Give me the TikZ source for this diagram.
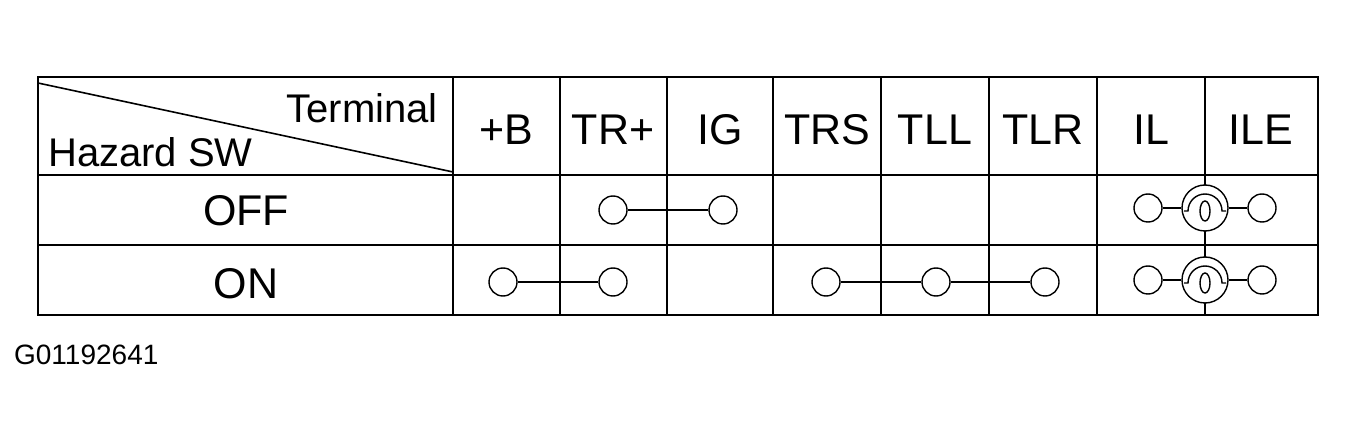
\documentclass[tikz,border=0pt]{standalone}
\usepackage{fontspec}
\setmainfont{Liberation Sans}
\begin{document}
\begin{tikzpicture}[x=1pt,y=-1pt,line width=1.6pt,
  term/.style={circle,draw,line width=1.4pt,minimum size=28pt,inner sep=0pt},
  lbl/.style={font=\fontsize{43}{43}\selectfont}]
\useasboundingbox (0,0) rectangle (1358,438);
\draw (38,77) rectangle (1318,315);
\draw (38,175) -- (1318,175) (38,245) -- (1318,245);
\foreach \x in {453,560,667,773,881,989,1097,1205} \draw (\x,77) -- (\x,315);
\draw (38,83) -- (453,172);
\node[font=\fontsize{40}{40}\selectfont,anchor=east] (hterm) at (442,108) {Terminal};
\node[font=\fontsize{40}{40}\selectfont,anchor=west] (hsw) at (44,152) {Hazard SW};
\foreach \x/\t/\n in {506/+B/h1,613/TR+/h2,720/IG/h3,827/TRS/h4,935/TLL/h5,1043/TLR/h6,1151/IL/h7,1261/ILE/h8}
  \node[lbl] (\n) at (\x,130) {\t};
\node[lbl] (off) at (246,211) {OFF};
\node[lbl] (on) at (246,284) {ON};
\node[font=\fontsize{28}{28}\selectfont,anchor=west] (code) at (10,355) {G01192641};
% OFF row
\node[term] (a1) at (613,210) {};
\node[term] (a2) at (723,210) {};
\draw (a1) -- (a2);
% ON row
\node[term] (b1) at (503,282) {};
\node[term] (b2) at (613,282) {};
\draw (b1) -- (b2);
\node[term] (c1) at (826,282) {};
\node[term] (c2) at (936,282) {};
\node[term] (c3) at (1045,282) {};
\draw (c1) -- (c2) -- (c3);
% lamps
\foreach \y/\p in {208/l,280/m}{
  \node[term] (\p a) at (1148,\y) {};
  \node[term] (\p c) at (1262,\y) {};
  \node[circle,draw,fill=white,line width=1.4pt,minimum size=46pt,inner sep=0pt] (\p b) at (1205,\y) {};
  \draw (\p a) -- (\p b.west) (\p b.east) -- (\p c);
  \draw[line width=1.4pt] (1184,\y+3) -- (1188,\y+3) arc (180:360:17) -- (1226,\y+3);
  \draw[line width=1.4pt] (1205,\y+3) ellipse (5 and 10);
}
\end{tikzpicture}
\end{document}
